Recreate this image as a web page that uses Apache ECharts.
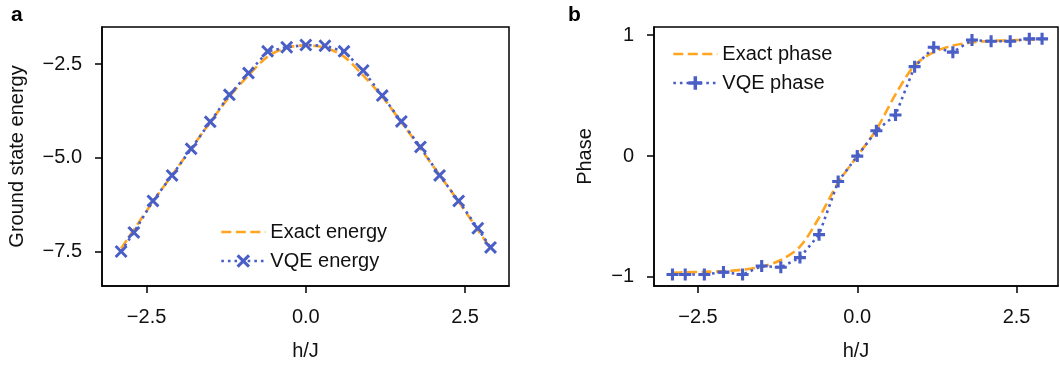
<!DOCTYPE html>
<html>
<head>
<meta charset="utf-8">
<script src="https://cdn.jsdelivr.net/npm/echarts@6/dist/echarts.min.js"></script>
<style>
  html, body { margin: 0; padding: 0; background: #fff; }
  #chart { width: 1060px; height: 366px; }
</style>
</head>
<body>
<div id="chart"></div>
<script>
// h/J sample points (shared by both panels)
const hVals = [-2.9, -2.7, -2.4, -2.1, -1.8, -1.5, -1.2, -0.9, -0.6, -0.3, 0, 0.3, 0.6, 0.9, 1.2, 1.5, 1.8, 2.1, 2.4, 2.7, 2.9]

// panel a: ground state energy
const exactEnergy = [-7.42, -6.92, -6.17, -5.46, -4.75, -4.05, -3.37, -2.80, -2.30, -2.06, -2.00, -2.06, -2.30, -2.80, -3.37, -4.05, -4.75, -5.46, -6.17, -6.92, -7.42]
const vqeEnergy = [-7.50, -6.99, -6.15, -5.47, -4.76, -4.04, -3.32, -2.74, -2.16, -2.05, -1.99, -2.01, -2.16, -2.67, -3.34, -4.03, -4.71, -5.47, -6.15, -6.88, -7.39]

// panel b: phase
const exactPhase = [-0.965, -0.962, -0.958, -0.952, -0.94, -0.915, -0.86, -0.75, -0.51, -0.22, 0, 0.22, 0.51, 0.75, 0.86, 0.915, 0.94, 0.952, 0.958, 0.962, 0.965]
const vqePhase = [-0.98, -0.98, -0.98, -0.96, -0.98, -0.91, -0.92, -0.84, -0.65, -0.21, 0, 0.21, 0.34, 0.74, 0.90, 0.86, 0.96, 0.95, 0.95, 0.97, 0.97]

// tick labels
const xTicks = [-2.5, 0, 2.5]
const energyTicks = [-7.5, -5.0, -2.5]
const phaseTicks = [-1, 0, 1]

const ORANGE = '#FFA51F'
const BLUE = '#4A5FC6'
const FONT = 'Liberation Sans, Arial, sans-serif'
const FS = 20
const XMARK = 'path://M0,1.6 L1.6,0 L5,3.4 L8.4,0 L10,1.6 L6.6,5 L10,8.4 L8.4,10 L5,6.6 L1.6,10 L0,8.4 L3.4,5 Z'
const PLUS = 'path://M3.7,0 H6.3 V3.7 H10 V6.3 H6.3 V10 H3.7 V6.3 H0 V3.7 H3.7 Z'

const pairs = (xs, ys) => xs.map((x, i) => [x, ys[i]])
const minus = s => s.replace('-', '\u2212')

const xAxisBase = (gridIndex, min, max) => ({
  type: 'value',
  gridIndex: gridIndex,
  min: min,
  max: max,
  name: 'h/J',
  nameLocation: 'middle',
  nameGap: 55,
  nameTextStyle: { color: '#111', fontSize: FS, fontFamily: FONT },
  axisLine: { show: true, onZero: false, lineStyle: { color: '#000', width: 1.5 } },
  axisTick: { show: true, length: 7, lineStyle: { color: '#000', width: 1.5 }, customValues: xTicks },
  axisLabel: {
    color: '#111', fontSize: FS, fontFamily: FONT, margin: 21,
    customValues: xTicks,
    formatter: v => minus(v.toFixed(1)),
  },
  splitLine: { show: false },
})

const yAxisBase = (gridIndex, min, max, ticks, name, gap, digits) => ({
  type: 'value',
  gridIndex: gridIndex,
  min: min,
  max: max,
  name: name,
  nameLocation: 'middle',
  nameGap: gap,
  nameTextStyle: { color: '#111', fontSize: FS, fontFamily: FONT },
  axisLine: { show: true, onZero: false, lineStyle: { color: '#000', width: 1.5 } },
  axisTick: { show: true, length: 7, lineStyle: { color: '#000', width: 1.5 }, customValues: ticks },
  axisLabel: {
    color: '#111', fontSize: FS, fontFamily: FONT, margin: 20,
    customValues: ticks,
    formatter: v => minus(v.toFixed(digits)),
  },
  splitLine: { show: false },
})

const legendBase = (left, top, names) => ({
  orient: 'vertical',
  left: left,
  top: top,
  padding: 0,
  itemWidth: 44,
  itemHeight: 17,
  itemGap: 9,
  lineStyle: { width: 2.6 },
  textStyle: { color: '#111', fontSize: FS, fontFamily: FONT },
  data: [
    { name: names[0], itemStyle: { opacity: 0 } },
    { name: names[1] },
  ],
})

const chart = echarts.init(document.getElementById('chart'))

const option = {
  animation: false,
  backgroundColor: '#fff',
  title: [
    { text: 'a', left: 6, top: 0, textStyle: { fontSize: 21, fontWeight: 'bold', color: '#000', fontFamily: FONT } },
    { text: 'b', left: 563, top: 0, textStyle: { fontSize: 21, fontWeight: 'bold', color: '#000', fontFamily: FONT } },
  ],
  grid: [
    { left: 102, top: 27, width: 407, height: 260, show: true, borderColor: '#000', borderWidth: 1.5, backgroundColor: 'transparent' },
    { left: 654, top: 27, width: 404, height: 260, show: true, borderColor: '#000', borderWidth: 1.5, backgroundColor: 'transparent' },
  ],
  legend: [
    legendBase(220, 222, ['Exact energy', 'VQE energy']),
    legendBase(672, 44, ['Exact phase', 'VQE phase']),
  ],
  xAxis: [
    xAxisBase(0, -3.2, 3.19),
    xAxisBase(1, -3.19, 3.15),
  ],
  yAxis: [
    yAxisBase(0, -8.42, -1.51, energyTicks, 'Ground state energy', 75, 1),
    yAxisBase(1, -1.075, 1.068, phaseTicks, 'Phase', 59, 0),
  ],
  series: [
    {
      name: 'Exact energy', type: 'line', xAxisIndex: 0, yAxisIndex: 0,
      data: pairs(hVals, exactEnergy),
      smooth: 0.3, showSymbol: false, symbol: 'none',
      lineStyle: { color: ORANGE, width: 2.6, type: [10, 4.5] },
      itemStyle: { color: ORANGE },
    },
    {
      name: 'VQE energy', type: 'line', xAxisIndex: 0, yAxisIndex: 0,
      data: pairs(hVals, vqeEnergy),
      symbol: XMARK, symbolSize: 13, showAllSymbol: true,
      lineStyle: { color: BLUE, width: 2.6, type: [2.6, 4] },
      itemStyle: { color: BLUE, borderWidth: 0 },
    },
    {
      name: 'Exact phase', type: 'line', xAxisIndex: 1, yAxisIndex: 1,
      data: pairs(hVals, exactPhase),
      smooth: 0.3, showSymbol: false, symbol: 'none',
      lineStyle: { color: ORANGE, width: 2.6, type: [10, 4.5] },
      itemStyle: { color: ORANGE },
    },
    {
      name: 'VQE phase', type: 'line', xAxisIndex: 1, yAxisIndex: 1,
      data: pairs(hVals, vqePhase),
      symbol: PLUS, symbolSize: 12, showAllSymbol: true,
      lineStyle: { color: BLUE, width: 2.6, type: [2.6, 4] },
      itemStyle: { color: BLUE, borderWidth: 0 },
    },
  ],
}

chart.setOption(option)
</script>
</body>
</html>
